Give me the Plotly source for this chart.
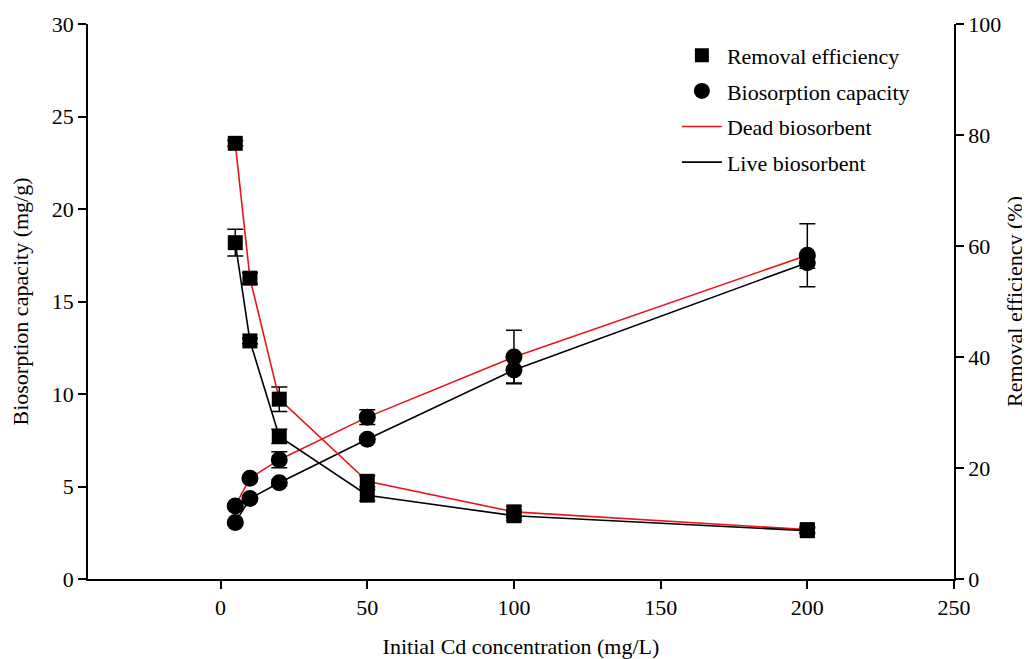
import plotly.graph_objects as go

conc = [5, 10, 20, 50, 100, 200]

# Biosorption capacity (mg/g), left axis
cap_dead = [3.95, 5.45, 6.45, 8.75, 12.0, 17.5]
cap_dead_err = [0.1, 0.12, 0.43, 0.4, 1.45, 1.7]
cap_live = [3.05, 4.35, 5.2, 7.55, 11.3, 17.1]
cap_live_err = [0.1, 0.1, 0.15, 0.15, 0.7, 0.3]

# Removal efficiency (%), right axis
rem_dead = [78.5, 54.2, 32.4, 17.6, 12.1, 8.9]
rem_dead_err = [0.5, 1.0, 2.2, 1.0, 1.0, 0.5]
rem_live = [60.6, 42.9, 25.7, 15.1, 11.4, 8.7]
rem_live_err = [2.4, 0.5, 1.3, 1.0, 0.8, 0.5]

RED = "#e8131b"
BLACK = "#000000"
FONT = "Liberation Serif"

fig = go.Figure()


def add_series(y, err, color, symbol, size, yaxis):
    fig.add_trace(go.Scatter(
        x=conc, y=y, mode="lines+markers",
        line=dict(color=color, width=1.6),
        marker=dict(symbol=symbol, size=size, color=BLACK),
        error_y=dict(type="data", array=err, visible=True, color=BLACK,
                     thickness=1.5, width=8),
        yaxis=yaxis, showlegend=False,
    ))


add_series(rem_dead, rem_dead_err, RED, "square", 15, "y2")
add_series(rem_live, rem_live_err, BLACK, "square", 15, "y2")
add_series(cap_dead, cap_dead_err, RED, "circle", 17, "y")
add_series(cap_live, cap_live_err, BLACK, "circle", 17, "y")

# Legend entries
fig.add_trace(go.Scatter(x=[None], y=[None], mode="markers", name="Removal efficiency",
                         marker=dict(symbol="square", size=14, color=BLACK), legendgroup="a"))
fig.add_trace(go.Scatter(x=[None], y=[None], mode="markers", name="Biosorption capacity",
                         marker=dict(symbol="circle", size=16, color=BLACK), legendgroup="b"))
fig.add_trace(go.Scatter(x=[None], y=[None], mode="lines", name="Dead biosorbent",
                         line=dict(color=RED, width=1.6), legendgroup="c"))
fig.add_trace(go.Scatter(x=[None], y=[None], mode="lines", name="Live biosorbent",
                         line=dict(color=BLACK, width=1.6), legendgroup="d"))

axis_common = dict(showline=True, linecolor=BLACK, linewidth=1.5, ticks="outside",
                   ticklen=8, tickwidth=1.5, tickcolor=BLACK, showgrid=False, zeroline=False,
                   automargin=False,
                   tickfont=dict(family=FONT, size=22, color=BLACK),
                   title_font=dict(family=FONT, size=22, color=BLACK))

# page body adds an 8px offset, so the figure is sized/margined to compensate
fig.update_layout(
    width=1022, height=651,
    margin=dict(l=80, r=76, t=16, b=80),
    paper_bgcolor="white", plot_bgcolor="white",
    font=dict(family=FONT, size=20, color=BLACK),
    xaxis=dict(range=[-45.2, 250], tickvals=[0, 50, 100, 150, 200, 250],
               title=dict(text="Initial Cd concentration (mg/L)", standoff=21), **axis_common),
    yaxis=dict(range=[0, 30], tickvals=[0, 5, 10, 15, 20, 25, 30],
               title=dict(text="Biosorption capacity (mg/g)", standoff=17), **axis_common),
    yaxis2=dict(range=[0, 100], tickvals=[0, 20, 40, 60, 80, 100], overlaying="y", side="right",
                anchor="x", title=dict(text="Removal efficiency (%)", standoff=6), **axis_common),
    legend=dict(x=0.68, y=0.981, xanchor="left", yanchor="top", bgcolor="rgba(0,0,0,0)",
                font=dict(family=FONT, size=22, color=BLACK), tracegroupgap=4,
                itemwidth=40),
)

fig.write_html("out.html")
